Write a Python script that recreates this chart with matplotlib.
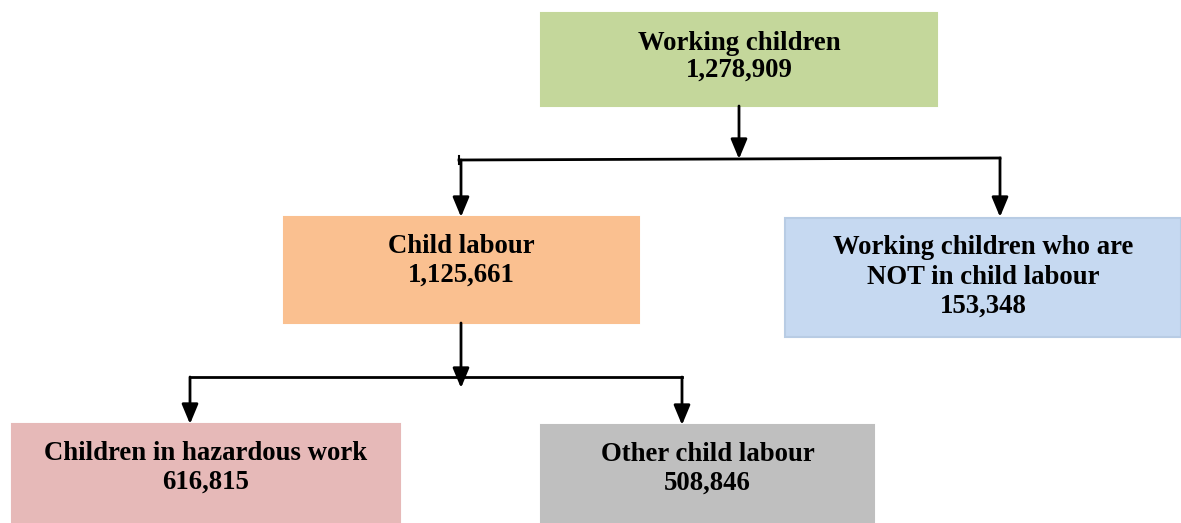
import matplotlib.pyplot as plt
from matplotlib.patches import Rectangle

plt.rcParams['font.family'] = ['Liberation Serif', 'DejaVu Serif']

labels = ['Working children', 'Child labour', 'Working children who are\nNOT in child labour',
          'Children in hazardous work', 'Other child labour']
values = [1278909, 1125661, 153348, 616815, 508846]
colors = ['#C4D79B', '#FAC090', '#C6D9F1', '#E6B9B8', '#BFBFBF']

# box geometry in pixels (x0, y0, x1, y1), y from top
boxes = [(541, 13, 937, 106), (284, 217, 639, 323), (785, 218, 1181, 337),
         (12, 424, 400, 523), (541, 425, 874, 523)]
text_y = [57, 261, 277, 468, 469]

fig = plt.figure(figsize=(11.81, 5.23), dpi=100)
ax = fig.add_axes([0, 0, 1, 1])
ax.set_xlim(0, 1181)
ax.set_ylim(523, 0)
ax.axis('off')

for i, (x0, y0, x1, y1) in enumerate(boxes):
    edge = '#B8CCE4' if i == 2 else colors[i]
    ax.add_patch(Rectangle((x0, y0), x1 - x0, y1 - y0, facecolor=colors[i],
                           edgecolor=edge, linewidth=1.5))
    ax.text((x0 + x1) / 2, text_y[i], f'{labels[i]}\n{values[i]:,}', ha='center', va='center',
            fontsize=19.3, fontweight='bold', linespacing=1.12 if i == 0 else 1.22)

ap = dict(arrowstyle='-|>,head_width=0.5,head_length=1.2', color='black', lw=2,
          shrinkA=0, shrinkB=0)


def arrow(x, ya, yb):
    ax.annotate('', xy=(x, yb), xytext=(x, ya), arrowprops=ap)


# level 1
arrow(739, 106, 159)
ax.plot([459, 1000], [160, 158], color='black', lw=2)
arrow(461, 160, 217)
arrow(1000, 158, 217)
ax.plot([459, 459], [156, 164], color='black', lw=1.5)

# level 2
arrow(461, 323, 388)
ax.plot([190, 682], [377, 377], color='black', lw=2)
arrow(190, 377, 424)
arrow(682, 377, 425)

fig.savefig('out.png', dpi=100)
